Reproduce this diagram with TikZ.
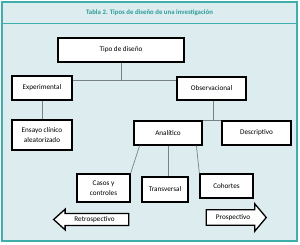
\documentclass[tikz,border=0pt]{standalone}
\usepackage{fontspec}
\setmainfont{Carlito}
\usetikzlibrary{positioning,shapes.arrows}
\definecolor{frameteal}{RGB}{64,174,170}
\definecolor{titleteal}{RGB}{44,156,152}
\definecolor{panelbg}{RGB}{221,236,239}
\definecolor{linegray}{RGB}{120,130,132}

\begin{document}
\begin{tikzpicture}[
    x=1pt, y=-1pt,
    box/.style={
        draw=black,
        line width=1.3pt,
        fill=white,
        align=center,
        inner sep=0pt,
        font=\fontsize{7.2}{9.5}\selectfont
    },
    conn/.style={
        draw=linegray,
        line width=0.7pt
    },
    blockarr/.style={
        single arrow,
        draw=black,
        line width=1.3pt,
        fill=white,
        inner xsep=2pt,
        font=\fontsize{7.2}{9}\selectfont
    }
]

\useasboundingbox (0,0) rectangle (300,244);

% ============================================================
% FRAME AND TITLE
% ============================================================

\fill[panelbg] (2,2) rectangle (297,241);
\draw[frameteal, line width=1.8pt] (2,2) rectangle (297,241);
\draw[frameteal, line width=1pt] (2,23) -- (297,23);

\node[font=\fontsize{6.8}{8}\selectfont\bfseries, text=titleteal] (title) at (149.5,12.5)
{Tabla 2. Tipos de diseño de una investigación};

% ============================================================
% TOP LEVELS
% ============================================================

\node[box, minimum width=126, minimum height=24] (tipo) at (121,50)
{Tipo de diseño};

\node[box, minimum width=60, minimum height=24] (exper) at (42,88)
{Experimental};

\node[box, minimum width=69, minimum height=23] (obs) at (211.5,88.5)
{Observacional};

\coordinate (split) at (121,80);
\coordinate (obsdrop) at (213,121);

\draw[conn] (tipo.south) -- (split);
\draw[conn] (exper.east |- split) -- (obs.west |- split);

% ============================================================
% SECOND LEVEL
% ============================================================

\node[box, minimum width=60, minimum height=30] (ensayo) at (42,135)
{Ensayo clínico\\aleatorizado};

\node[box, minimum width=68, minimum height=24] (anal) at (168,133)
{Analítico};

\node[box, minimum width=69, minimum height=24] (desc) at (256.5,133)
{Descriptivo};

\draw[conn] (exper.south) -- (ensayo.north);
\draw[conn] (obs.south -| obsdrop) -- (obsdrop);
\draw[conn] (anal.north east) -- (desc.north west);

% ============================================================
% ANALYTIC BRANCHES
% ============================================================

\node[box, minimum width=53, minimum height=28] (casos) at (103.5,188)
{Casos y\\controles};

\node[box, minimum width=46, minimum height=25] (trans) at (165,189.5)
{Transversal};

\node[box, minimum width=53, minimum height=24] (coh) at (226.5,186)
{Cohortes};

\draw[conn] (anal.204) -- (casos.north east);
\draw[conn] (anal.south) -- (anal.south |- trans.north);
\draw[conn] (anal.-24) -- (coh.north west);

% ============================================================
% TIME DIRECTION
% ============================================================

\node[blockarr, shape border rotate=180, inner ysep=2.3pt,
      minimum height=75, single arrow head extend=4.3pt,
      single arrow tip angle=84] (retro) at (94.5,219.5)
{Retrospectivo};

\node[blockarr, inner ysep=4pt,
      minimum height=60, single arrow head extend=6pt,
      single arrow tip angle=100] (pros) at (233,217.5)
{Prospectivo};

\end{tikzpicture}
\end{document}
